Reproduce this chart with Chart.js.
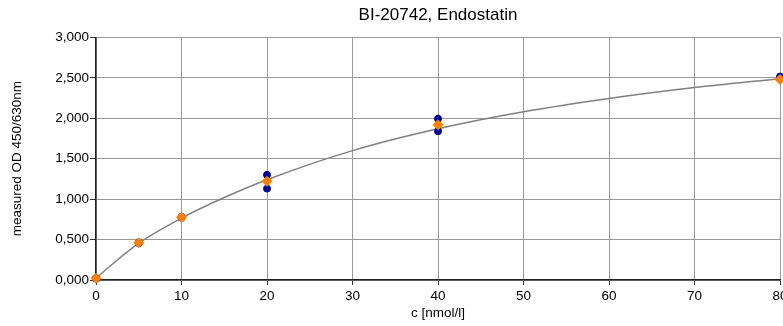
<!DOCTYPE html>
<html>
<head>
<meta charset="utf-8">
<script src="https://cdn.jsdelivr.net/npm/chart.js@4"></script>
<style>
  html, body { margin: 0; padding: 0; background: #fff; overflow: hidden; }
  #wrap { width: 800px; height: 326px; }
</style>
</head>
<body>
<div id="wrap"><canvas id="odChart" width="800" height="326"></canvas></div>
<script>
const concReps = [0, 0, 5, 5, 10, 10, 20, 20, 40, 40, 80, 80];
const odReps = [0.02, 0.02, 0.455, 0.465, 0.77, 0.78, 1.30, 1.13, 1.995, 1.84, 2.515, 2.49];

const concMeans = [0, 5, 10, 20, 40, 80];
const odMeans = [0.02, 0.46, 0.775, 1.22, 1.92, 2.48];

const curveConc = [0, 5, 10, 15, 20, 30, 40, 50, 60, 70, 80];
const curveOD = [0.025, 0.455, 0.765, 1.02, 1.24, 1.60, 1.87, 2.08, 2.245, 2.38, 2.49];

const xTicks = [0, 10, 20, 30, 40, 50, 60, 70, 80];
const yTicks = [0, 0.5, 1, 1.5, 2, 2.5, 3];

const toXY = (xs, ys) => xs.map((x, i) => ({x: x, y: ys[i]}));

const fontFam = '"Liberation Sans", Arial, sans-serif';
const ctx = document.getElementById('odChart').getContext('2d');

let odChart = new Chart(ctx, {
  type: 'scatter',
  data: {
    datasets: [{
      label: 'mean',
      data: toXY(concMeans, odMeans),
      pointStyle: 'rectRot',
      pointRadius: 5,
      backgroundColor: '#ff8000',
      borderColor: '#ff8000',
      borderWidth: 1,
      clip: false
    }, {
      label: 'replicates',
      data: toXY(concReps, odReps),
      pointStyle: 'circle',
      pointRadius: 3.5,
      backgroundColor: '#000099',
      borderColor: '#000099',
      borderWidth: 1,
      clip: false
    }, {
      label: 'fit',
      data: toXY(curveConc, curveOD),
      showLine: true,
      pointRadius: 0,
      borderColor: '#808080',
      borderWidth: 1.5,
      cubicInterpolationMode: 'monotone',
      fill: false
    }]
  },
  options: {
    responsive: false,
    devicePixelRatio: 1,
    animation: false,
    layout: { padding: { left: 0, right: 20, top: 0, bottom: 0 } },
    plugins: {
      legend: { display: false },
      tooltip: { enabled: false },
      title: {
        display: true,
        fullSize: false, // center over the plot area, not the canvas
        text: 'BI-20742, Endostatin',
        color: '#000',
        font: { family: fontFam, size: 17, weight: 'normal' },
        padding: { top: 5, bottom: 12 }
      }
    },
    scales: {
      x: {
        type: 'linear',
        min: 0,
        max: 80,
        afterBuildTicks: (scale) => { scale.ticks = xTicks.map(v => ({value: v})); },
        afterFit: (scale) => { scale.height = 46; },
        ticks: {
          color: '#000',
          padding: 3,
          font: { family: fontFam, size: 13.5 },
          maxRotation: 0
        },
        grid: { color: '#999', lineWidth: 1, tickLength: 5, tickColor: '#333' },
        border: { color: '#222', width: 1.5 },
        title: {
          display: true,
          text: 'c [nmol/l]',
          color: '#000',
          font: { family: fontFam, size: 13.5 },
          padding: { top: 0, bottom: 5 }
        }
      },
      y: {
        min: 0,
        max: 3,
        afterBuildTicks: (scale) => { scale.ticks = yTicks.map(v => ({value: v})); },
        afterFit: (scale) => { scale.width = 96; },
        ticks: {
          color: '#000',
          padding: 1,
          font: { family: fontFam, size: 13.5 },
          callback: (v) => v.toFixed(3).replace('.', ',')
        },
        grid: { color: '#999', lineWidth: 1, tickLength: 6, tickColor: '#333' },
        border: { color: '#222', width: 1.5 },
        title: {
          display: true,
          text: 'measured OD 450/630nm',
          color: '#000',
          font: { family: fontFam, size: 13.5 },
          padding: { top: 9, bottom: 0 }
        }
      }
    }
  }
});
</script>
</body>
</html>
